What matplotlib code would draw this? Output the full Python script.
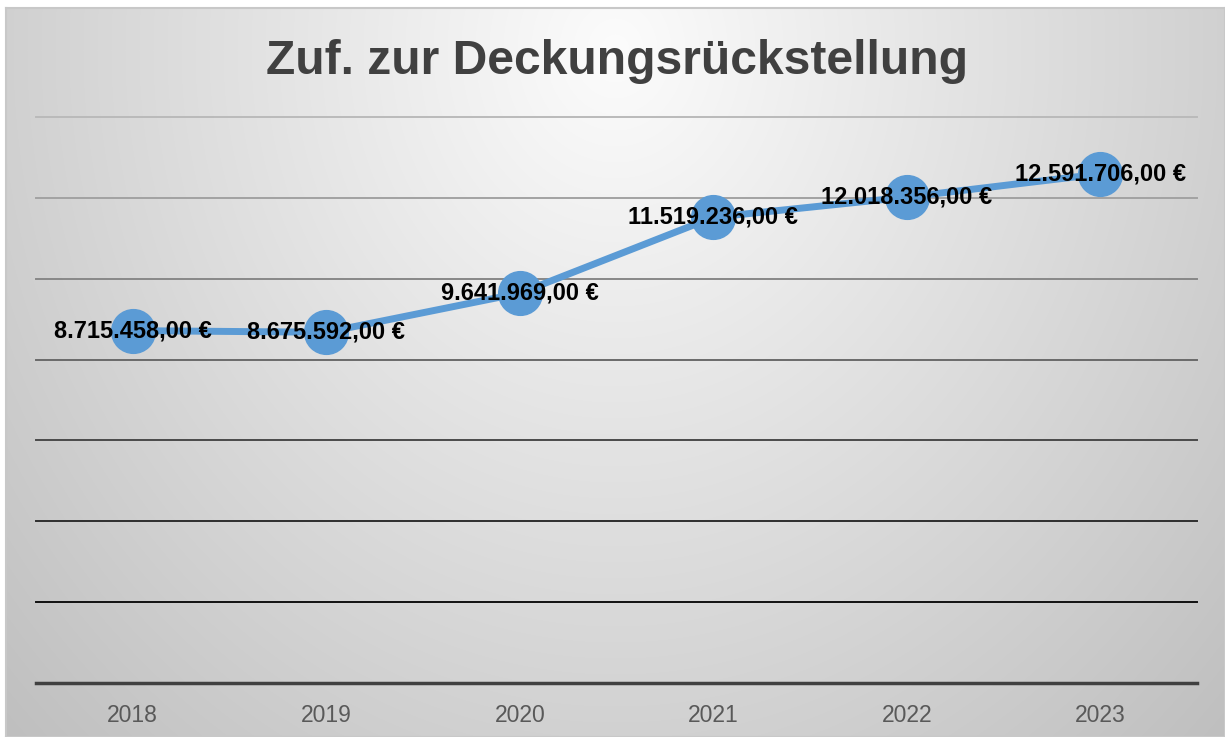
import numpy as np
import matplotlib
matplotlib.use("Agg")
import matplotlib.pyplot as plt

years = ["2018", "2019", "2020", "2021", "2022", "2023"]
values = [8715458, 8675592, 9641969, 11519236, 12018356, 12591706]
labels = ["8.715.458,00 €", "8.675.592,00 €", "9.641.969,00 €",
          "11.519.236,00 €", "12.018.356,00 €", "12.591.706,00 €"]
title = "Zuf. zur Deckungsrückstellung"

W, H = 1225, 737
fig = plt.figure(figsize=(W / 100, H / 100), dpi=100)
fig.patch.set_facecolor("white")
plt.rcParams['font.family'] = ['Liberation Sans', 'DejaVu Sans']

# background radial gradient
x0, y0 = 6, 8
bg = fig.add_axes([x0 / W, 0, 1 - x0 / W, 1 - y0 / H], zorder=0)
xx, yy = np.meshgrid(np.arange(x0, W), np.arange(y0, H))
d = np.sqrt(((xx - 615) / 700.0) ** 2 + ((yy - 50) / 800.0) ** 2)
g = np.clip(252 - 50 * d, 190, 252) / 255.0
img = np.dstack([g, g, g])
bg.imshow(img, aspect="auto", extent=[0, 1, 0, 1], origin="upper")
bg.set_xlim(0, 1); bg.set_ylim(0, 1)
for s in bg.spines.values():
    s.set_color("#c8c8c8"); s.set_linewidth(1.5)
bg.set_xticks([]); bg.set_yticks([])

ax = fig.add_axes([36 / W, 1 - 683 / H, (1197 - 36) / W, (683 - 117) / H], zorder=1)
ax.patch.set_alpha(0)
x = np.arange(len(years))
ax.set_xlim(-0.5, len(years) - 0.5)
ax.set_ylim(0, 14000000)

grid_vals = [2e6, 4e6, 6e6, 8e6, 10e6, 12e6, 14e6]
grid_cols = ["#111111", "#2e2e2e", "#4a4a4a", "#6a6a6a", "#888888", "#a2a2a2", "#bababa"]
for gv, gc in zip(grid_vals, grid_cols):
    ax.axhline(gv, color=gc, lw=1.4, zorder=1, clip_on=False)
ax.axhline(0, color="#404040", lw=2.5, zorder=1, clip_on=False)

ax.plot(x, values, color="#5b9bd5", lw=5, zorder=2, solid_capstyle="round")
ax.plot(x, values, "o", color="#5b9bd5", ms=31.5, mec="#5b9bd5", zorder=3)

for xi, v, lab in zip(x, values, labels):
    ax.text(xi, v, lab, ha="center", va="center", fontsize=17,
            fontweight="bold", color="black", zorder=4)

for s in ax.spines.values():
    s.set_visible(False)
ax.set_yticks([])
ax.set_xticks(x)
ax.set_xticklabels(years, fontsize=16.5, color="#595959")
ax.tick_params(axis="x", length=0, pad=15)

fig.text(617 / W, 1 - 61 / H, title, ha="center", va="center",
         fontsize=34.6, fontweight="bold", color="#404040")

fig.savefig("out.png", dpi=100)
